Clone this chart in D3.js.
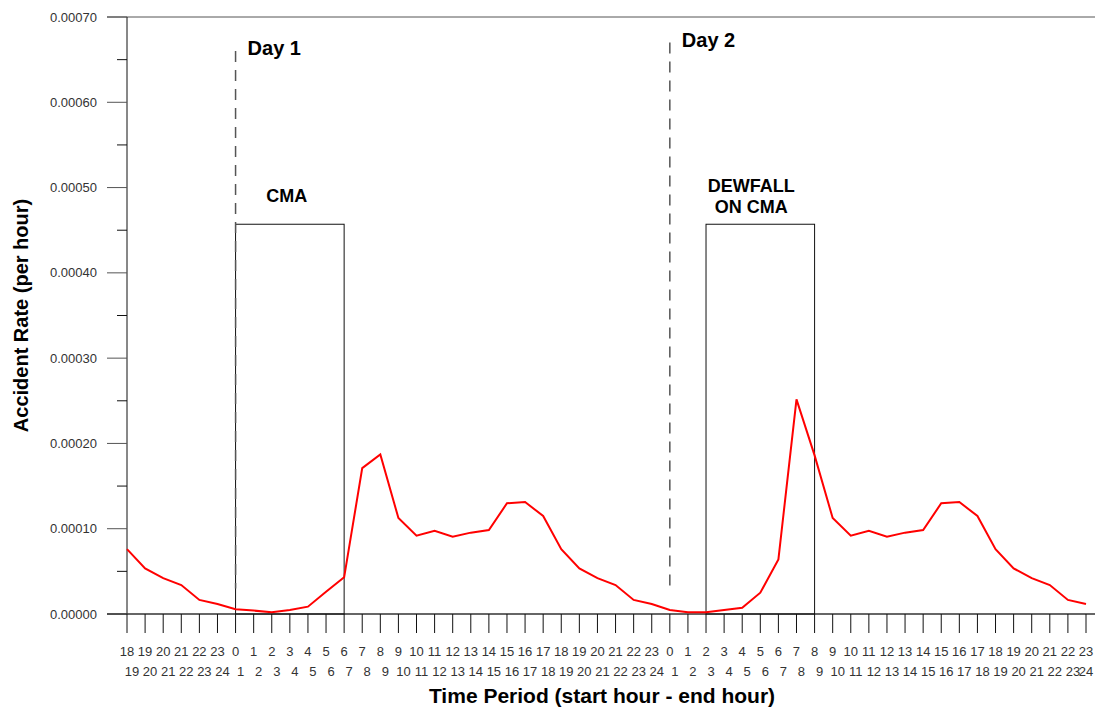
<!DOCTYPE html>
<html>
<head>
<meta charset="utf-8">
<script src="https://cdn.jsdelivr.net/npm/d3@7"></script>
<style>
  body { margin: 0; background: #fff; }
  svg { font-family: "Liberation Sans", Arial, sans-serif; }
  .ylab, .xlab { fill: #333; }
</style>
</head>
<body>
<div id="chart"></div>
<script>
    var width = 1095,
        height = 711;

    // start hour of each period (day 0 evening, day 1, day 2)
    var startHours = [18, 19, 20, 21, 22, 23,
      0, 1, 2, 3, 4, 5, 6, 7, 8, 9, 10, 11, 12, 13, 14, 15, 16, 17, 18, 19, 20, 21, 22, 23,
      0, 1, 2, 3, 4, 5, 6, 7, 8, 9, 10, 11, 12, 13, 14, 15, 16, 17, 18, 19, 20, 21, 22, 23];

    var endHours = startHours.map(function(h) { return h + 1; });

    // accident rate per hour
    var rates = [0.0000760, 0.0000535, 0.0000420, 0.0000340, 0.0000165, 0.0000117,
      0.0000055, 0.0000040, 0.0000020, 0.0000047, 0.0000086, 0.0000260, 0.0000430, 0.0001710,
      0.0001870, 0.0001125, 0.0000918, 0.0000977, 0.0000907, 0.0000954, 0.0000985, 0.0001298,
      0.0001313, 0.0001149, 0.0000760, 0.0000535, 0.0000420, 0.0000340, 0.0000165, 0.0000117,
      0.0000047, 0.0000020, 0.0000020, 0.0000047, 0.0000074, 0.0000250, 0.0000640, 0.0002517,
      0.0001860, 0.0001125, 0.0000918, 0.0000977, 0.0000907, 0.0000954, 0.0000985, 0.0001298,
      0.0001313, 0.0001149, 0.0000760, 0.0000535, 0.0000420, 0.0000340, 0.0000165, 0.0000117];

    var yTicks = [0, 0.0001, 0.0002, 0.0003, 0.0004, 0.0005, 0.0006, 0.0007];
    var yMinorTicks = [0.00005, 0.00015, 0.00025, 0.00035, 0.00045, 0.00055, 0.00065];

    // day markers: index where the day starts, dashed line top value
    var dayNames = ["Day 1", "Day 2"];
    var dayStart = [6, 30];
    var dayTop = [0.00066, 0.00067];
    var dayBottom = 0.00003;

    // condition periods drawn as boxes
    var boxLabels = [["CMA"], ["DEWFALL", "ON CMA"]];
    var boxFrom = [6, 32];
    var boxTo = [12, 38];
    var boxTop = 0.000457;

    var margin = { top: 17, left: 127, bottom: 97 };

    var x = d3.scalePoint()
      .domain(d3.range(rates.length))
      .range([127, 1086]);

    var y = d3.scaleLinear()
      .domain([0, 0.0007])
      .range([height - margin.bottom, margin.top]);

    var svg = d3.select("#chart").append("svg")
      .attr("width", width)
      .attr("height", height);

    // top border
    svg.append("line")
      .attr("x1", 107).attr("x2", width)
      .attr("y1", y(0.0007)).attr("y2", y(0.0007))
      .attr("stroke", "#555");

    // y axis
    svg.append("line")
      .attr("x1", margin.left).attr("x2", margin.left)
      .attr("y1", y(0.0007)).attr("y2", y(0))
      .attr("stroke", "#111");

    svg.selectAll(".ymajor").data(yTicks).enter().append("line")
      .attr("x1", 107).attr("x2", margin.left)
      .attr("y1", function(d) { return y(d); })
      .attr("y2", function(d) { return y(d); })
      .attr("stroke", "#555");

    svg.selectAll(".yminor").data(yMinorTicks).enter().append("line")
      .attr("x1", 117).attr("x2", margin.left)
      .attr("y1", function(d) { return y(d); })
      .attr("y2", function(d) { return y(d); })
      .attr("stroke", "#111");

    svg.selectAll(".ylab").data(yTicks).enter().append("text")
      .attr("class", "ylab")
      .attr("x", 97)
      .attr("y", function(d) { return y(d) + 4.5; })
      .attr("text-anchor", "end")
      .style("font-size", "13px")
      .text(function(d) { return d3.format(".5f")(d); });

    svg.append("text")
      .attr("transform", "translate(28," + y(0.00035) + ") rotate(-90)")
      .attr("text-anchor", "middle")
      .style("font-size", "20px")
      .style("font-weight", "bold")
      .text("Accident Rate (per hour)");

    // x axis baseline and ticks
    svg.append("line")
      .attr("x1", 107).attr("x2", width)
      .attr("y1", y(0)).attr("y2", y(0))
      .attr("stroke", "#333")
      .attr("stroke-width", 1.5);

    svg.selectAll(".xtick").data(d3.range(rates.length)).enter().append("line")
      .attr("x1", function(d) { return x(d); })
      .attr("x2", function(d) { return x(d); })
      .attr("y1", y(0)).attr("y2", y(0) + 19)
      .attr("stroke", "#111");

    svg.selectAll(".xlab1").data(startHours).enter().append("text")
      .attr("class", "xlab")
      .attr("x", function(d, i) { return x(i); })
      .attr("y", 656)
      .attr("text-anchor", "middle")
      .style("font-size", "13px")
      .text(function(d) { return d; });

    svg.selectAll(".xlab2").data(endHours).enter().append("text")
      .attr("class", "xlab")
      .attr("x", function(d, i) { return Math.min(x(i) + 5, width - 9); })
      .attr("y", 676)
      .attr("text-anchor", "middle")
      .style("font-size", "13px")
      .text(function(d) { return d; });

    svg.append("text")
      .attr("x", 602)
      .attr("y", 703)
      .attr("text-anchor", "middle")
      .style("font-size", "21px")
      .style("font-weight", "bold")
      .text("Time Period (start hour - end hour)");

    // boxes
    boxLabels.forEach(function(lines, i) {
      var x0 = x(boxFrom[i]), x1 = x(boxTo[i]);
      svg.append("rect")
        .attr("x", x0)
        .attr("y", y(boxTop))
        .attr("width", x1 - x0)
        .attr("height", y(0) - y(boxTop))
        .attr("fill", "none")
        .attr("stroke", "#111");

      var cx = (x0 + x1) / 2 - (lines.length > 1 ? 9 : 3);
      lines.forEach(function(t, j) {
        var off = lines.length > 1 ? 32 - j * 21 : 22;
        svg.append("text")
          .attr("x", cx)
          .attr("y", y(boxTop) - off)
          .attr("text-anchor", "middle")
          .style("font-size", "18px")
          .style("font-weight", "bold")
          .text(t);
      });
    });

    // day separators
    dayNames.forEach(function(name, i) {
      var dx = x(dayStart[i]);
      svg.append("line")
        .attr("x1", dx).attr("x2", dx)
        .attr("y1", y(dayTop[i])).attr("y2", y(dayBottom))
        .attr("stroke", "#555")
        .attr("stroke-width", 1.5)
        .attr("stroke-dasharray", "11,8");

      svg.append("text")
        .attr("x", dx + 12)
        .attr("y", y(dayTop[i]) + 4)
        .style("font-size", "20px")
        .style("font-weight", "bold")
        .text(name);
    });

    // accident rate line
    var line = d3.line()
      .x(function(d, i) { return x(i); })
      .y(function(d) { return y(d); });

    svg.append("path")
      .datum(rates)
      .attr("fill", "none")
      .attr("stroke", "#ff0000")
      .attr("stroke-width", 2)
      .attr("d", line);
</script>
</body>
</html>
